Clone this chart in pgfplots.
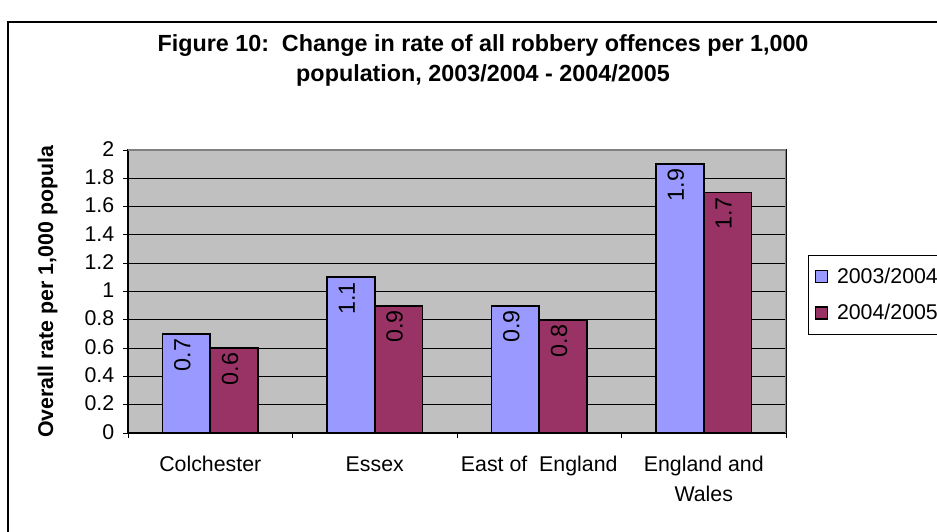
\documentclass[border=0pt]{standalone}
\usepackage{fontspec}
\setmainfont{Liberation Sans}
\usepackage{pgfplots}
\pgfplotsset{compat=1.18}
\definecolor{barblue}{HTML}{9999FF}
\definecolor{barred}{HTML}{993366}
\definecolor{plotbg}{HTML}{C0C0C0}
\definecolor{bordergray}{HTML}{808080}
\begin{document}
\begin{tikzpicture}
\path[use as bounding box] (0,0) rectangle (702.75pt,398.25pt);
\clip (0,0) rectangle (702.75pt,398.25pt);
\fill[white] (0,0) rectangle (702.75pt,398.25pt);
\draw[line width=1.2pt] (6pt,-20pt) rectangle (720pt,381.75pt);
\node[anchor=base, inner sep=0pt, font=\fontsize{17.5}{21}\selectfont\bfseries] at (362.25pt,359.25pt) {Figure 10:\ \ Change in rate of all robbery offences per 1,000};
\node[anchor=base, inner sep=0pt, font=\fontsize{17.5}{21}\selectfont\bfseries] at (362.25pt,336.75pt) {population, 2003/2004 - 2004/2005};
\begin{axis}[
  at={(96pt,73.5pt)}, anchor=south west,
  width=493.5pt, height=212.25pt, scale only axis,
  xmin=-0.5, xmax=3.5, ymin=0, ymax=2,
  ybar, bar width=0.29,
  xtick={-0.5,0.5,1.5,2.5,3.5}, xticklabels={},
  extra x ticks={0,1,2,3},
  extra x tick labels={Colchester,Essex,East of~ England,{England and\\Wales}},
  extra x tick style={major tick length=0pt, grid=none},
  ytick={0,0.2,0.4,0.6,0.8,1,1.2,1.4,1.6,1.8},
  extra y ticks={2}, extra y tick style={grid=none},
  ymajorgrids, major grid style={black, line width=0.6pt},
  tick align=outside, tick pos=left, major tick length=3.75pt,
  tick style={black, line width=0.6pt},
  axis line style={black, line width=0.8pt},
  axis background/.style={fill=plotbg},
  ticklabel style={font=\fontsize{16}{23}\selectfont},
  xticklabel style={align=center, anchor=north, yshift=-9pt},
  yticklabel style={xshift=-3pt},
  typeset ticklabels with strut,
  /pgf/number format/assume math mode=true,
  nodes near coords,
  every node near coord/.append style={font=\fontsize{17.5}{20}\selectfont, xshift=-3pt, yshift=-3pt, rotate=90, anchor=east, inner sep=0pt, black},
  legend style={at={(1.0334,0.629)}, anchor=north west, draw=black, line width=0.75pt, fill=white,
    font=\fontsize{16}{19}\selectfont, row sep=10pt, inner xsep=5pt, inner ysep=7.5pt},
  legend cell align=left,
]
\addplot[fill=barblue, draw=black, line width=1.3pt, bar shift=-0.145,
  legend image code/.code={\draw[fill=barblue, draw=black, line width=0.8pt] (0pt,-4.5pt) rectangle (9pt,4.5pt);\path[draw=none, fill=none] (0pt,0pt) -- (14pt,0pt);}]
  coordinates {(0,0.7) (1,1.1) (2,0.9) (3,1.9)};
\addplot[fill=barred, draw=black, line width=1.3pt, bar shift=0.145,
  legend image code/.code={\draw[fill=barred, draw=black, line width=0.8pt] (0pt,-4.5pt) rectangle (9pt,4.5pt);\path[draw=none, fill=none] (0pt,0pt) -- (14pt,0pt);}]
  coordinates {(0,0.6) (1,0.9) (2,0.8) (3,1.7)};
\legend{2003/2004, 2004/2005}
\draw[bordergray, line width=0.8pt] (rel axis cs:0,1) -- (rel axis cs:1,1) -- (rel axis cs:1,0);
\end{axis}
\node[rotate=90, anchor=base west, inner sep=0pt, font=\fontsize{16}{19}\selectfont\bfseries] at (39.75pt,69.75pt) {Overall rate per 1,000 popula};
\end{tikzpicture}
\end{document}
